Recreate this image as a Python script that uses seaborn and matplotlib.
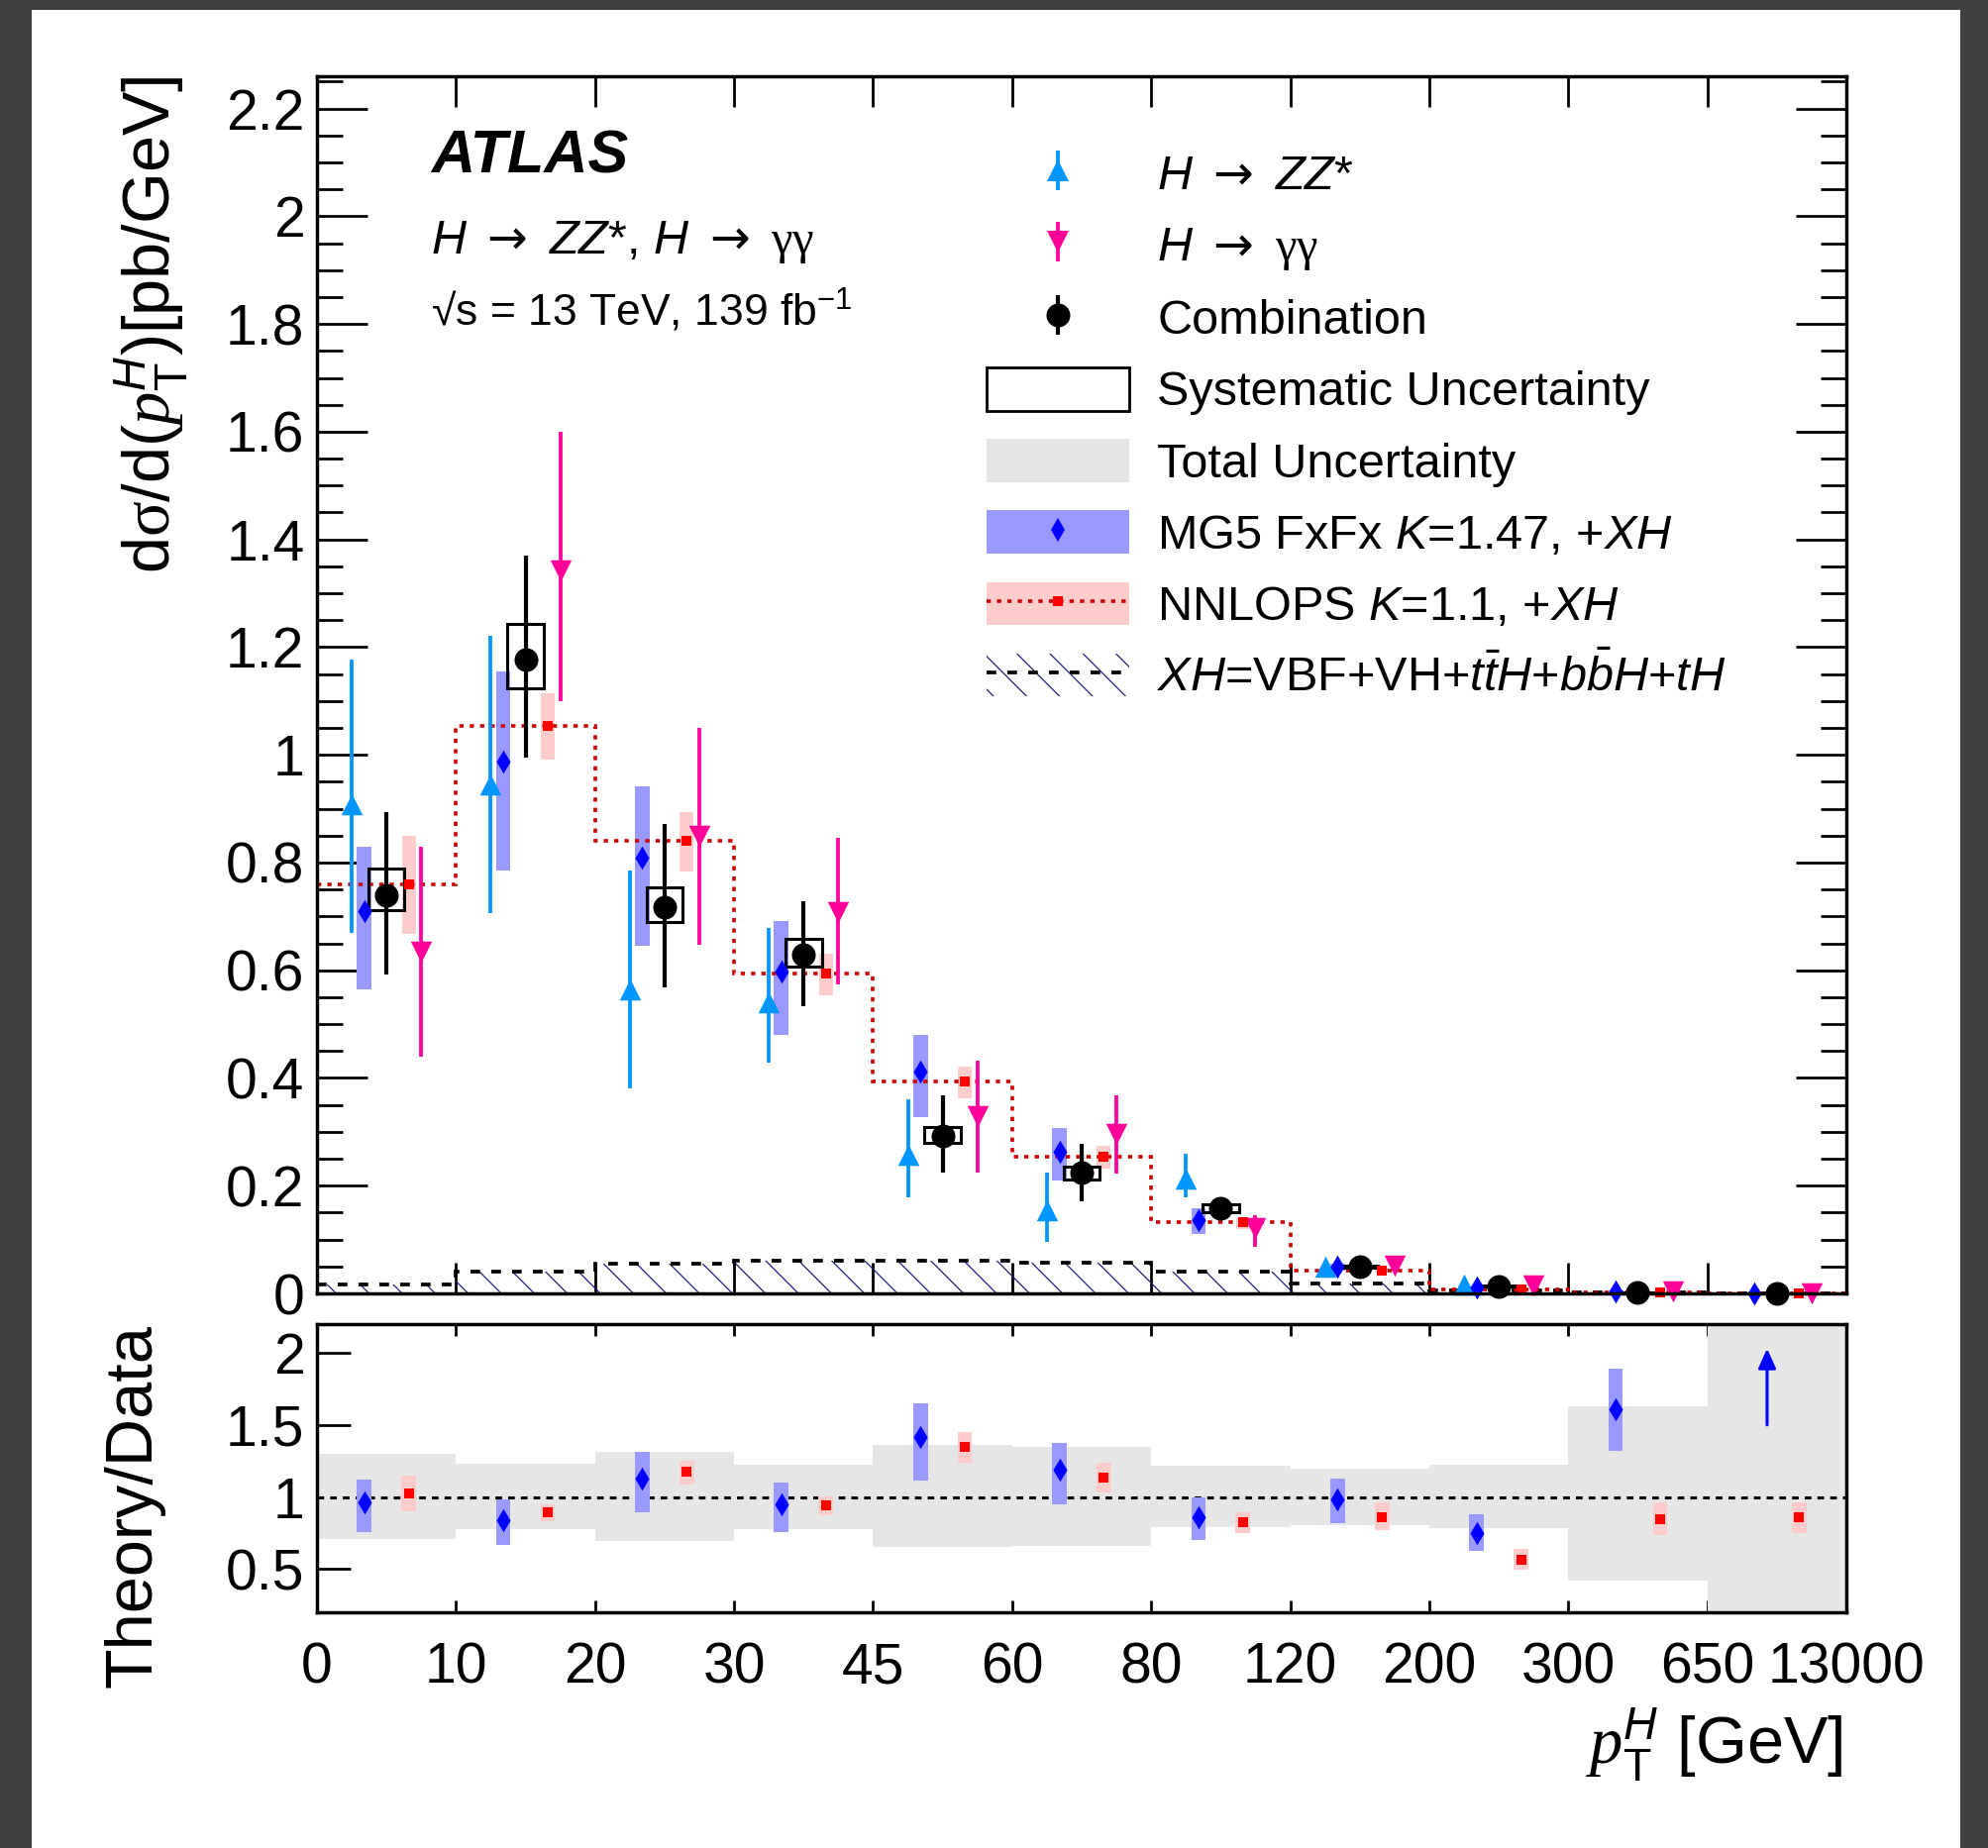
import numpy as np
import matplotlib
matplotlib.use("Agg")
import matplotlib.pyplot as plt
import seaborn as sns
import pandas as pd
from matplotlib.lines import Line2D
from matplotlib.patches import Patch, Rectangle
from matplotlib.legend_handler import HandlerTuple
from matplotlib.ticker import FixedLocator, MultipleLocator, FuncFormatter

# ---------------- data ----------------
edge_labels = ["0", "10", "20", "30", "45", "60", "80", "120", "200", "300", "650", "13000"]

# H -> ZZ* (bins 0..8)
zz_val = [0.909, 0.945, 0.565, 0.540, 0.257, 0.154, 0.213, 0.0505, 0.017, np.nan, np.nan]
zz_hi = [1.176, 1.221, 0.785, 0.679, 0.361, 0.225, 0.259, 0.058, 0.020, np.nan, np.nan]
zz_lo = [0.670, 0.706, 0.381, 0.428, 0.178, 0.096, 0.178, 0.043, 0.014, np.nan, np.nan]

# H -> gamma gamma
gg_val = [0.635, 1.343, 0.850, 0.708, 0.330, 0.296, 0.122, 0.051, 0.015, 0.003, 0.0002]
gg_hi = [0.829, 1.600, 1.050, 0.845, 0.432, 0.368, 0.146, 0.055, 0.017, 0.004, 0.0003]
gg_lo = [0.440, 1.100, 0.648, 0.574, 0.225, 0.223, 0.087, 0.046, 0.013, 0.002, 0.0001]

# Combination
comb_val = [0.740, 1.176, 0.718, 0.628, 0.293, 0.224, 0.158, 0.049, 0.0135, 0.0025, 0.00015]
comb_hi = [0.893, 1.370, 0.872, 0.728, 0.367, 0.277, 0.175, 0.056, 0.016, 0.0030, 0.0002]
comb_lo = [0.592, 0.994, 0.569, 0.533, 0.224, 0.171, 0.141, 0.042, 0.011, 0.0020, 0.0001]
comb_sys_hi = [0.788, 1.244, 0.754, 0.659, 0.309, 0.236, 0.166, 0.051, 0.0145, 0.0027, 0.00016]
comb_sys_lo = [0.712, 1.123, 0.690, 0.606, 0.280, 0.212, 0.150, 0.047, 0.0125, 0.0023, 0.00014]

# MG5 FxFx prediction
mg5_val = [0.710, 0.987, 0.809, 0.597, 0.411, 0.263, 0.136, 0.049, 0.011, 0.004, 0.0003]
mg5_hi = [0.830, 1.155, 0.942, 0.692, 0.480, 0.307, 0.158, 0.055, 0.013, 0.0047, 0.0004]
mg5_lo = [0.565, 0.786, 0.645, 0.480, 0.327, 0.210, 0.111, 0.043, 0.009, 0.0033, 0.0002]

# NNLOPS prediction
nn_val = [0.759, 1.054, 0.840, 0.594, 0.394, 0.254, 0.132, 0.043, 0.008, 0.002, 0.0001]
nn_hi = [0.849, 1.115, 0.894, 0.631, 0.422, 0.274, 0.140, 0.047, 0.009, 0.0023, 0.00012]
nn_lo = [0.668, 0.991, 0.784, 0.553, 0.363, 0.232, 0.119, 0.039, 0.007, 0.0017, 0.00008]

# XH = VBF+VH+ttH+bbH+tH
xh_val = [0.017, 0.041, 0.055, 0.061, 0.061, 0.057, 0.041, 0.018, 0.005, 0.001, 0.0001]

# Ratio panel: Theory / Data
tot_hi = [1.300, 1.230, 1.311, 1.224, 1.364, 1.350, 1.214, 1.198, 1.226, 1.627, 2.50]
tot_lo = [0.707, 0.776, 0.698, 0.776, 0.652, 0.659, 0.790, 0.804, 0.781, 0.422, 0.00]

r_mg5_val = [0.961, 0.839, 1.127, 0.947, 1.415, 1.191, 0.857, 0.982, 0.751, 1.606, np.nan]
r_mg5_hi = [1.122, 0.984, 1.316, 1.101, 1.650, 1.376, 0.995, 1.127, 0.878, 1.892, np.nan]
r_mg5_lo = [0.758, 0.666, 0.896, 0.758, 1.115, 0.947, 0.705, 0.820, 0.627, 1.318, np.nan]
r_mg5_arrow_bin = 10
r_mg5_arrow_from = 1.50
r_mg5_arrow_to = 2.03

r_nn_val = [1.023, 0.892, 1.173, 0.942, 1.346, 1.138, 0.823, 0.862, 0.567, 0.846, 0.857]
r_nn_hi = [1.150, 0.947, 1.253, 1.007, 1.449, 1.235, 0.896, 0.961, 0.638, 0.961, 0.965]
r_nn_lo = [0.901, 0.834, 1.088, 0.873, 1.237, 1.035, 0.747, 0.770, 0.493, 0.735, 0.747]

# ---------------- style ----------------
sns.set_theme(style="ticks")
plt.rcParams.update({
    "font.family": ["Liberation Sans", "DejaVu Sans"],
    "mathtext.fontset": "custom",
    "mathtext.rm": "Liberation Sans",
    "mathtext.it": "Liberation Sans:italic",
    "mathtext.bf": "Liberation Sans:bold",
    "mathtext.sf": "Liberation Serif",
    "mathtext.cal": "Liberation Serif:italic",
    "mathtext.tt": "DejaVu Sans",
    "text.color": "black",
    "axes.labelcolor": "black",
    "axes.edgecolor": "black",
    "xtick.color": "black",
    "ytick.color": "black",
    "axes.linewidth": 2.5,
    "hatch.linewidth": 0.9,
})

C_ZZ = "#0096ff"
C_GG = "#ff0099"
C_MG5_BAND = "#9999ff"
C_MG5 = "#0000ff"
C_NN_BAND = "#ffcccc"
C_NN = "#ff0000"
C_NN_LINE = "#cc0000"
C_TOT = "#e6e6e6"
C_HATCH = "#202080"

nb = len(comb_val)
bins = np.arange(nb)
edges = np.arange(nb + 1)

W, H = 2008, 1866
fig = plt.figure(figsize=(W / 100, H / 100), dpi=100)
fig.patch.set_facecolor("#404040")
fig.patches.append(Rectangle((32 / W, 0), (1979 - 32) / W, (H - 10) / H,
                             transform=fig.transFigure, facecolor="white",
                             edgecolor="none", zorder=-10))

L, R = 320, 1864
ax = fig.add_axes([L / W, 1 - 1306 / H, (R - L) / W, (1306 - 77) / H])
ax2 = fig.add_axes([L / W, 1 - 1628 / H, (R - L) / W, (1628 - 1337) / H])

OFF_ZZ, OFF_MG5, OFF_COMB, OFF_NN, OFF_GG = 0.25, 0.34, 0.5, 0.66, 0.75
ELW = 2.7
DASH = (0, (2.6, 3.0))

def arr(a):
    return np.asarray(a, dtype=float)

# XH hatched area + dashed line
xh_step = np.append(arr(xh_val), xh_val[-1])
ax.fill_between(edges, 0, xh_step, step="post", facecolor="none",
                edgecolor=C_HATCH, hatch="\\", linewidth=0, zorder=1)
ax.stairs(arr(xh_val), edges, baseline=None, color="black", lw=2.7,
          linestyle=DASH, zorder=3)

# NNLOPS dotted histogram
ax.stairs(arr(nn_val), edges, baseline=None, color=C_NN_LINE, lw=2.6,
          linestyle=(0, (1.2, 1.7)), zorder=3)

# theory bands
ax.bar(bins + OFF_MG5, arr(mg5_hi) - arr(mg5_lo), bottom=mg5_lo, width=0.105,
       color=C_MG5_BAND, linewidth=0, zorder=2)
ax.bar(bins + OFF_NN, arr(nn_hi) - arr(nn_lo), bottom=nn_lo, width=0.10,
       color=C_NN_BAND, linewidth=0, zorder=2)

# error bars
ax.vlines(bins + OFF_ZZ, zz_lo, zz_hi, color=C_ZZ, lw=ELW, zorder=4)
ax.vlines(bins + OFF_GG, gg_lo, gg_hi, color=C_GG, lw=ELW, zorder=4)
ax.vlines(bins + OFF_COMB, comb_lo, comb_hi, color="black", lw=ELW + 0.3, zorder=4)

# systematic boxes
ax.bar(bins + OFF_COMB, arr(comb_sys_hi) - arr(comb_sys_lo), bottom=comb_sys_lo,
       width=0.26, fill=False, edgecolor="black", linewidth=2.2, zorder=5)

# markers (seaborn)
df = pd.DataFrame({
    "bin": bins, "zz": zz_val, "gg": gg_val, "comb": comb_val,
    "mg5": mg5_val, "nn": nn_val,
})
sns.scatterplot(x=df["bin"] + OFF_ZZ, y=df["zz"], marker="^", s=15.5 ** 2,
                color=C_ZZ, linewidth=0, ax=ax, legend=False, zorder=6, clip_on=False)
sns.scatterplot(x=df["bin"] + OFF_GG, y=df["gg"], marker="v", s=15.5 ** 2,
                color=C_GG, linewidth=0, ax=ax, legend=False, zorder=6, clip_on=False)
sns.scatterplot(x=df["bin"] + OFF_MG5, y=df["mg5"], marker="d", s=12 ** 2,
                color=C_MG5, linewidth=0, ax=ax, legend=False, zorder=6, clip_on=False)
sns.scatterplot(x=df["bin"] + OFF_NN, y=df["nn"], marker="s", s=7.2 ** 2,
                color=C_NN, linewidth=0, ax=ax, legend=False, zorder=6, clip_on=False)
sns.scatterplot(x=df["bin"] + OFF_COMB, y=df["comb"], marker="o", s=17.3 ** 2,
                color="black", linewidth=0, ax=ax, legend=False, zorder=7, clip_on=False)

# ---------- ratio panel ----------
ax2.bar(bins + 0.5, arr(tot_hi) - arr(tot_lo), bottom=tot_lo, width=1.0,
        color=C_TOT, linewidth=0, zorder=1)
ax2.axhline(1.0, color="black", lw=2.2, linestyle=(0, (2.2, 2.0)), zorder=2)
ax2.bar(bins + OFF_MG5, arr(r_mg5_hi) - arr(r_mg5_lo), bottom=r_mg5_lo, width=0.105,
        color=C_MG5_BAND, linewidth=0, zorder=3)
ax2.bar(bins + OFF_NN, arr(r_nn_hi) - arr(r_nn_lo), bottom=r_nn_lo, width=0.105,
        color=C_NN_BAND, linewidth=0, zorder=3)
rdf = pd.DataFrame({"bin": bins, "mg5": r_mg5_val, "nn": r_nn_val})
sns.scatterplot(x=rdf["bin"] + OFF_MG5, y=rdf["mg5"], marker="d", s=12 ** 2,
                color=C_MG5, linewidth=0, ax=ax2, legend=False, zorder=5)
sns.scatterplot(x=rdf["bin"] + OFF_NN, y=rdf["nn"], marker="s", s=7.2 ** 2,
                color=C_NN, linewidth=0, ax=ax2, legend=False, zorder=5)
ax2.annotate("", xy=(r_mg5_arrow_bin + 0.43, r_mg5_arrow_to),
             xytext=(r_mg5_arrow_bin + 0.43, r_mg5_arrow_from),
             arrowprops=dict(arrowstyle="-|>,head_length=1.0,head_width=0.45",
                             color=C_MG5, lw=2.2, shrinkA=0, shrinkB=0), zorder=6)

# ---------- axes formatting ----------
fmt = FuncFormatter(lambda v, p: "%g" % round(v, 3))
ax.set_xlim(0, nb)
ax.set_ylim(0, 2.26)
ax.xaxis.set_major_locator(FixedLocator(edges))
ax.yaxis.set_major_locator(MultipleLocator(0.2))
ax.yaxis.set_minor_locator(MultipleLocator(0.05))
ax.yaxis.set_major_formatter(fmt)
ax.tick_params(axis="y", which="major", direction="in", length=36.7, width=2,
               left=True, right=True, labelsize=41, pad=9.0)
ax.tick_params(axis="y", which="minor", direction="in", length=18.7, width=2,
               left=True, right=True)
ax.tick_params(axis="x", which="major", direction="in", length=22.3, width=2,
               top=True, bottom=True, labelbottom=False)
ax.tick_params(axis="x", which="minor", bottom=False, top=False)

ax2.set_xlim(0, nb)
ax2.set_ylim(0.2, 2.2)
ax2.xaxis.set_major_locator(FixedLocator(edges))
ax2.set_xticklabels(edge_labels)
ax2.yaxis.set_major_locator(FixedLocator([0.5, 1.0, 1.5, 2.0]))
ax2.yaxis.set_major_formatter(fmt)
ax2.tick_params(axis="y", which="major", direction="in", length=24.5, width=2,
                left=True, right=True, labelsize=41, pad=9.0)
ax2.tick_params(axis="x", which="major", direction="in", length=8.6, width=2,
                top=True, bottom=True, labelsize=41, pad=21.0)
ax2.tick_params(which="minor", left=False, right=False, bottom=False, top=False)

for a in (ax, ax2):
    for s in a.spines.values():
        s.set_linewidth(2.5)
        s.set_zorder(10)

ax.set_xlabel("")
ax.set_ylabel(r"d$\mathsf{\sigma}$/d($\mathcal{p}_{\mathrm{T}}^{H}$)[pb/GeV]",
              fontsize=48, loc="top")
ax.yaxis.set_label_coords(-0.083, 1.0)
ax2.set_ylabel("Theory/Data", fontsize=48, loc="top")
ax2.yaxis.set_label_coords(-0.0997, 1.0)
ax2.set_xlabel(r"$\mathcal{p}_{\mathrm{T}}^{H}$ [GeV]", fontsize=48, loc="right")
ax2.xaxis.set_label_coords(0.9974, -0.326)

# ---------- labels ----------
ARROW = r"\ \mathtt{\rightarrow}\ "
ax.text(0.0745, 0.9203, "ATLAS", transform=ax.transAxes, fontsize=44,
        fontweight="bold", fontstyle="italic", va="baseline", ha="left")
ax.text(0.0745, 0.8544, r"$H" + ARROW + r"ZZ$*, $H" + ARROW + r"\mathsf{\gamma\gamma}$",
        transform=ax.transAxes, fontsize=35, va="baseline", ha="left")
ax.text(0.0745, 0.7950, "\u221as = 13 TeV, 139 fb$^{\\mathrm{-1}}$",
        transform=ax.transAxes, fontsize=32, va="baseline", ha="left")

# ---------- legend ----------
h_zz = (Line2D([], [], ls="none", marker="|", ms=29.5, mew=ELW, color=C_ZZ),
        Line2D([], [], ls="none", marker="^", ms=15.5, color=C_ZZ, mew=0))
h_gg = (Line2D([], [], ls="none", marker="|", ms=29.5, mew=ELW, color=C_GG),
        Line2D([], [], ls="none", marker="v", ms=15.5, color=C_GG, mew=0))
h_comb = (Line2D([], [], ls="none", marker="|", ms=29.5, mew=ELW + 0.3, color="black"),
          Line2D([], [], ls="none", marker="o", ms=17.3, color="black", mew=0))
h_sys = Patch(facecolor="white", edgecolor="black", linewidth=2.0)
h_tot = Patch(facecolor=C_TOT, edgecolor="none")
h_mg5 = (Patch(facecolor=C_MG5_BAND, edgecolor="none"),
         Line2D([], [], ls="none", marker="d", ms=12, color=C_MG5, mew=0))
h_nn = (Patch(facecolor=C_NN_BAND, edgecolor="none"),
        Line2D([], [], color=C_NN_LINE, lw=2.6, ls=(0, (1.2, 1.7)),
               marker="s", ms=7.2, mfc=C_NN, mec=C_NN, mew=0))
h_xh = (Patch(facecolor="none", edgecolor=C_HATCH, hatch="\\", linewidth=0),
        Line2D([], [], color="black", lw=2.7, ls=DASH))
handles = [h_zz, h_gg, h_comb, h_sys, h_tot, h_mg5, h_nn, h_xh]
labels = [r"$H" + ARROW + r"ZZ$*",
          r"$H" + ARROW + r"\mathsf{\gamma\gamma}$",
          "Combination",
          "Systematic Uncertainty",
          "Total Uncertainty",
          r"MG5 FxFx $K$=1.47, +$XH$",
          r"NNLOPS $K$=1.1, +$XH$",
          r"$XH$=VBF+VH+$t\bar{t}H$+$b\bar{b}H$+$tH$"]
leg = ax.legend(handles, labels, loc="upper left", bbox_to_anchor=(0.4378, 0.9387),
                frameon=False, fontsize=35, handlelength=2.96, handleheight=1.0,
                handletextpad=0.58, labelspacing=0.49, borderpad=0, borderaxespad=0,
                numpoints=1, handler_map={tuple: HandlerTuple(ndivide=1, pad=0)})
leg.set_zorder(20)

fig.savefig("out.png", dpi=100, facecolor=fig.get_facecolor())
